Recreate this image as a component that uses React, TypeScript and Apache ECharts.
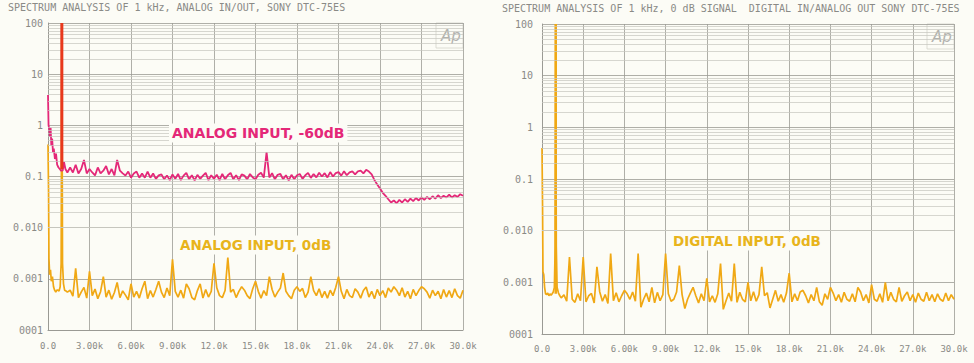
import React, { useEffect, useRef } from "react";
import * as echarts from "echarts";

// ---------- tick labels ----------
const X_TICKS_LEFT = ["0.0", "3.00k", "6.00k", "9.00k", "12.0k", "15.0k", "18.0k", "21.0k", "24.0k", "27.0k", "30.0k"];
const X_TICKS_RIGHT = ["0.0", "3.00k", "6.00k", "9.00k", "12.0k", "15.0k", "18.0k", "21.0k", "24.0k", "27.0k", "30.0k"];
const Y_TICKS = ["0001", "0.001", "0.010", "0.1", "1", "10", "100"];

const TITLE_LEFT = "SPECTRUM ANALYSIS OF 1 kHz, ANALOG IN/OUT, SONY DTC-75ES";
const TITLE_RIGHT = "SPECTRUM ANALYSIS OF 1 kHz, 0 dB SIGNAL  DIGITAL IN/ANALOG OUT SONY DTC-75ES";

// floor arrays start at 1.6 kHz and step 200 Hz up to 30 kHz
const FLOOR_START = 1600;
const FLOOR_STEP = 200;

// ---------- left chart: analog input -60 dB ----------
const analogM60Low: [number, number][] = [
  [0, 3.9], [40, 1.0], [90, 0.85], [140, 0.6], [190, 0.9], [240, 0.4], [300, 0.55], [360, 0.3],
  [420, 0.35], [500, 0.22], [580, 0.28], [660, 0.17], [760, 0.15], [860, 0.14], [940, 0.13],
  [1060, 0.13], [1160, 0.19], [1260, 0.14], [1400, 0.12],
];
const analogM60Floor: number[] = [
  0.15, 0.12, 0.17, 0.115, 0.14, 0.21, 0.115, 0.14,
  0.12, 0.105, 0.15, 0.115, 0.13, 0.16, 0.11, 0.14, 0.105, 0.21,
  0.13, 0.115, 0.105, 0.125, 0.095, 0.115, 0.125, 0.095, 0.115, 0.095, 0.125, 0.095, 0.115, 0.09, 0.105,
  0.11, 0.088, 0.105, 0.085, 0.11, 0.09, 0.112, 0.085, 0.104, 0.118,
  0.088, 0.106, 0.084, 0.108, 0.09, 0.104, 0.118, 0.085, 0.106, 0.09,
  0.108, 0.085, 0.112, 0.088, 0.106, 0.118, 0.088, 0.106, 0.085, 0.11,
  0.104, 0.088, 0.112, 0.096, 0.088, 0.108, 0.118, 0.095, 0.3, 0.096,
  0.116, 0.088, 0.108, 0.112, 0.088, 0.106, 0.084, 0.108, 0.088, 0.106,
  0.112, 0.09, 0.106, 0.118, 0.094, 0.112, 0.096, 0.118, 0.1, 0.116,
  0.096, 0.122, 0.1, 0.116, 0.122, 0.104, 0.126, 0.106, 0.12, 0.126,
  0.11, 0.126, 0.13, 0.115, 0.135, 0.125, 0.11, 0.085, 0.07, 0.058,
  0.048, 0.042, 0.036, 0.031, 0.034, 0.03, 0.035, 0.031, 0.036, 0.032,
  0.037, 0.033, 0.038, 0.034, 0.039, 0.035, 0.04, 0.036, 0.041, 0.037,
  0.043, 0.038, 0.042, 0.039, 0.044, 0.039, 0.043, 0.04, 0.045, 0.042,
];
const analogFundamental: [number, number][] = [[1000, 0.14], [1000, 100]];

// ---------- left chart: analog input 0 dB ----------
const analog0Low: [number, number][] = [
  [0, 0.42], [40, 0.05], [70, 0.0025], [120, 0.0012], [180, 0.0015], [240, 0.0009], [320, 0.0011],
  [400, 0.0007], [480, 0.0006], [560, 0.00055], [640, 0.0006], [720, 0.0006], [800, 0.00058],
  [880, 0.0007], [950, 0.002], [1000, 100], [1050, 0.002], [1120, 0.0008], [1200, 0.0006],
  [1300, 0.00058], [1400, 0.00055],
];
const analog0Floor: number[] = [
  0.0006, 0.00046, 0.00066, 0.00043, 0.00055, 0.00068, 0.00042, 0.00058, 0.00047, 0.00063,
  0.00041, 0.00056, 0.00066, 0.00044, 0.0006, 0.0004, 0.00054, 0.00065, 0.00043, 0.00058,
  0.00048, 0.00039, 0.00062, 0.00044, 0.00057, 0.00042, 0.00064, 0.00047, 0.00041, 0.00059,
  0.00044, 0.00062, 0.0004, 0.00055, 0.00043, 0.00066, 0.00047, 0.00041, 0.00057, 0.00044,
  0.0006, 0.00042, 0.00055, 0.00064, 0.00043, 0.00039, 0.00059, 0.00047, 0.00042, 0.00062,
  0.00044, 0.00057, 0.00041, 0.00067, 0.00047, 0.00043, 0.00059, 0.0004, 0.00055, 0.00062,
  0.00043, 0.00057, 0.00042, 0.0006, 0.00047, 0.00041, 0.00064, 0.00044, 0.00057, 0.00042,
  0.00059, 0.00047, 0.0004, 0.00062, 0.00044, 0.00055, 0.00066, 0.00042, 0.00057, 0.00047,
  0.00041, 0.0006, 0.00044, 0.00057, 0.00065, 0.00043, 0.00055, 0.0004, 0.00059, 0.00047,
  0.00064, 0.00043, 0.00057, 0.00042, 0.0006, 0.00047, 0.00068, 0.00044, 0.00057, 0.00041,
  0.00062, 0.00047, 0.00043, 0.00064, 0.00055, 0.00042, 0.00059, 0.00069, 0.00044, 0.00057,
  0.00041, 0.00062, 0.00047, 0.00059, 0.00043, 0.00066, 0.00055, 0.00042, 0.0006, 0.00047,
  0.00067, 0.00044, 0.00057, 0.00041, 0.00062, 0.00047, 0.00059, 0.00043, 0.00064, 0.00055,
  0.00042, 0.0006, 0.00047, 0.00057, 0.00041, 0.00062, 0.00044, 0.00059, 0.00043, 0.00064,
  0.00047, 0.00042, 0.0006,
];
const analog0Harmonics: [number, number][] = [
  [2000, 0.0016], [3000, 0.0014], [4000, 0.0011], [5000, 0.00085], [6000, 0.0008], [7000, 0.0009],
  [8000, 0.0009], [9000, 0.0024], [10000, 0.0008], [11000, 0.0008], [12000, 0.002], [13000, 0.0026],
  [14000, 0.0007], [15000, 0.0009], [16000, 0.0011], [17000, 0.0013], [18000, 0.0007], [19000, 0.0011],
  [21000, 0.0011], [25000, 0.0007], [27000, 0.0007],
];

// ---------- right chart: digital input 0 dB ----------
const digital0Low: [number, number][] = [
  [0, 0.4], [40, 0.03], [70, 0.0016], [130, 0.0014], [190, 0.0008], [260, 0.0006], [340, 0.00058],
  [420, 0.00062], [500, 0.00055], [580, 0.0006], [660, 0.00056], [740, 0.0006], [820, 0.00065],
  [900, 0.0008], [960, 0.005], [1000, 100], [1040, 0.005], [1100, 0.0008], [1200, 0.00062],
  [1300, 0.00055], [1400, 0.0005],
];
const digital0Floor: number[] = [
  0.00057, 0.00043, 0.00062, 0.00047, 0.00041, 0.0006, 0.00044, 0.00064, 0.00042, 0.00055,
  0.00061, 0.0004, 0.00047, 0.00066, 0.00043, 0.00058, 0.00039, 0.0006, 0.00044, 0.00063,
  0.00042, 0.00055, 0.00036, 0.0006, 0.00047, 0.00065, 0.00043, 0.00058, 0.00033, 0.00047,
  0.00062, 0.00042, 0.00055, 0.0004, 0.00064, 0.00044, 0.00058, 0.00041, 0.0006, 0.00043,
  0.00047, 0.00065, 0.00042, 0.00058, 0.00031, 0.00047, 0.00062, 0.00043, 0.00055, 0.0004,
  0.0006, 0.00044, 0.00064, 0.00042, 0.00055, 0.00041, 0.0006, 0.00047, 0.0003, 0.00044,
  0.00062, 0.00043, 0.00058, 0.00041, 0.00064, 0.00047, 0.00042, 0.0006, 0.00044, 0.00066,
  0.00043, 0.00058, 0.0004, 0.00055, 0.00063, 0.00032, 0.00047, 0.0006, 0.00043, 0.00058,
  0.00041, 0.00062, 0.00047, 0.00042, 0.0006, 0.00044, 0.00065, 0.00043, 0.00055, 0.0004,
  0.00058, 0.00044, 0.00063, 0.00042, 0.00036, 0.0006, 0.00047, 0.00043, 0.00062, 0.00044,
  0.00058, 0.00041, 0.00064, 0.00047, 0.00043, 0.0006, 0.00042, 0.00055, 0.00065, 0.00044,
  0.00058, 0.0004, 0.00062, 0.00047, 0.00043, 0.0006, 0.00041, 0.00058, 0.00044, 0.00064,
  0.00047, 0.00042, 0.0006, 0.00043, 0.00055, 0.00065, 0.00044, 0.00058, 0.00041, 0.00062,
  0.00047, 0.00043, 0.00064, 0.00044, 0.00058, 0.00042, 0.0006, 0.00047, 0.00043, 0.00062,
  0.00044, 0.00058, 0.00047,
];
const digital0Harmonics: [number, number][] = [
  [2000, 0.0031], [3000, 0.0031], [4000, 0.002], [5000, 0.0036], [6000, 0.0007], [7000, 0.0036],
  [8000, 0.0008], [9000, 0.0036], [10000, 0.0021], [11000, 0.0008], [12000, 0.0012], [13000, 0.0023],
  [14000, 0.0023], [15000, 0.001], [16000, 0.002], [17000, 0.0007], [18000, 0.0015], [19000, 0.0007],
  [20000, 0.0008], [21000, 0.0008], [23000, 0.0008], [24000, 0.0009], [25000, 0.001], [26000, 0.0008],
];
const digitalFundamental: [number, number][] = [[1000, 0.0006], [1000, 100]];

// ---------- helpers ----------
function buildSeries(low: [number, number][], floor: number[], harmonics: [number, number][]) {
  const out: [number, number][] = low.map((p) => [p[0], p[1]]);
  floor.forEach((v, i) => {
    const f = FLOOR_START + i * FLOOR_STEP;
    const h = harmonics.find((p) => p[0] === f);
    out.push([f, h ? h[1] : v]);
  });
  return out;
}

const MINOR_LINES: number[] = [];
for (let d = -4; d <= 1; d++) {
  for (let m = 2; m <= 9; m++) MINOR_LINES.push(m * Math.pow(10, d));
}

const BG = "#fcfcf6";
const GRID_MAJOR = "#9a9a94";
const GRID_MINOR = "#c6c6be";
const LABEL = "#8a8a86";
const PINK = "#e42878";
const ORANGE = "#f0a814";
const ORANGE_TEXT = "#e8b41c";
const RED = "#e8381c";

function yLabel(v: number) {
  const idx = Math.round(Math.log10(v)) + 4;
  return Y_TICKS[idx] ?? "";
}

export default function App() {
  const ref = useRef<HTMLDivElement>(null);
  useEffect(() => {
    if (!ref.current) return;
    const chart = echarts.init(ref.current, undefined, { renderer: "svg" });

    const xAxisBase = (ticks: string[], idx: number, margin: number) => ({
      type: "value" as const,
      gridIndex: idx,
      min: 0,
      max: 30000,
      interval: 3000,
      axisLine: { show: true, lineStyle: { color: GRID_MAJOR, width: 1 } },
      axisTick: { show: false },
      splitLine: { show: true, lineStyle: { color: GRID_MAJOR, width: 0.8 } },
      axisLabel: {
        color: LABEL,
        fontFamily: "DejaVu Sans Mono",
        fontSize: 9,
        margin,
        formatter: (v: number) => ticks[Math.round(v / 3000)] ?? "",
      },
    });
    const yAxisBase = (idx: number, margin: number) => ({
      type: "log" as const,
      gridIndex: idx,
      logBase: 10,
      min: 0.0001,
      max: 100,
      splitNumber: 6,
      axisLine: { show: true, lineStyle: { color: GRID_MAJOR, width: 1 } },
      axisTick: { show: false },
      splitLine: { show: true, lineStyle: { color: GRID_MAJOR, width: 0.8 } },
      axisLabel: {
        color: LABEL,
        fontFamily: "DejaVu Sans Mono",
        fontSize: 10,
        margin,
        formatter: yLabel,
      },
    });
    const minorSeries = (idx: number) => ({
      type: "line" as const,
      xAxisIndex: idx,
      yAxisIndex: idx,
      data: [] as number[][],
      z: 1,
      silent: true,
      markLine: {
        silent: true,
        symbol: ["none", "none"],
        label: { show: false },
        lineStyle: { color: GRID_MINOR, width: 0.7, type: "solid" as const },
        emphasis: { disabled: true },
        data: MINOR_LINES.map((v) => ({ yAxis: v })),
      },
    });
    const lineSeries = (idx: number, data: [number, number][], color: string, width: number, z: number) => ({
      type: "line" as const,
      xAxisIndex: idx,
      yAxisIndex: idx,
      data,
      showSymbol: false,
      symbol: "none",
      z,
      lineStyle: { color, width },
      itemStyle: { color },
    });

    const apLogo = (x: number, y: number) => ({
      type: "group" as const,
      z: 100,
      children: [
        { type: "rect" as const, shape: { x, y, width: 27, height: 25 }, style: { fill: BG, stroke: "#d4d4cc", lineWidth: 0.8 } },
        {
          type: "text" as const,
          x: x + 5,
          y: y + 5,
          style: { text: "Ap", fill: "#b2b2ae", font: "italic 15px 'DejaVu Sans'" },
        },
      ],
    });
    const annot = (x: number, y: number, text: string, color: string, size: number) => ({
      type: "text" as const,
      z: 100,
      x,
      y,
      style: {
        text,
        fill: color,
        font: `bold ${size}px 'DejaVu Sans'`,
        backgroundColor: BG,
        padding: [3, 3, 2, 3],
        verticalAlign: "middle" as const,
      },
    });

    chart.setOption({
      animation: false,
      backgroundColor: BG,
      grid: [
        { left: 48, top: 23, width: 415, height: 307 },
        { left: 542, top: 24, width: 412, height: 310 },
      ],
      xAxis: [xAxisBase(X_TICKS_LEFT, 0, 11), xAxisBase(X_TICKS_RIGHT, 1, 10)],
      yAxis: [yAxisBase(0, 5), yAxisBase(1, 9)],
      series: [
        minorSeries(0),
        minorSeries(1),
        lineSeries(0, buildSeries(analog0Low, analog0Floor, analog0Harmonics), ORANGE, 1.7, 3),
        lineSeries(0, buildSeries(analogM60Low, analogM60Floor, []), PINK, 1.8, 4),
        lineSeries(0, analogFundamental, RED, 3, 5),
        lineSeries(1, buildSeries(digital0Low, digital0Floor, digital0Harmonics), ORANGE, 1.7, 3),
        lineSeries(1, digitalFundamental, ORANGE, 2.5, 4),
      ],
      graphic: [
        { type: "text", left: 8, top: 2, style: { text: TITLE_LEFT, fill: LABEL, font: "10px 'DejaVu Sans Mono'" } },
        { type: "text", left: 502, top: 3, style: { text: TITLE_RIGHT, fill: LABEL, font: "10px 'DejaVu Sans Mono'" } },
        apLogo(436, 23),
        apLogo(927, 24),
        annot(169, 133, "ANALOG INPUT, -60dB", PINK, 14),
        annot(177, 245, "ANALOG INPUT, 0dB", ORANGE_TEXT, 13.5),
        annot(670, 241, "DIGITAL INPUT, 0dB", ORANGE_TEXT, 13.5),
      ],
    });
    return () => chart.dispose();
  }, []);

  return <div ref={ref} style={{ position: "absolute", left: 0, top: 0, width: 974, height: 363 }} />;
}
